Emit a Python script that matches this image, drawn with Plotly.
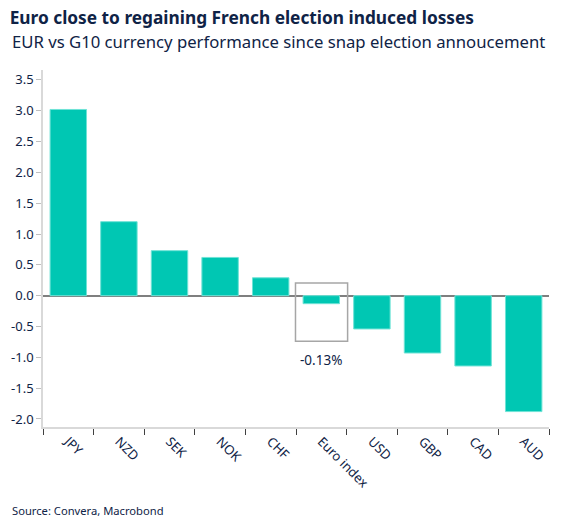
import plotly.graph_objects as go

categories = ["JPY", "NZD", "SEK", "NOK", "CHF", "Euro index", "USD", "GBP", "CAD", "AUD"]
values = [3.02, 1.20, 0.73, 0.62, 0.29, -0.13, -0.54, -0.93, -1.14, -1.88]
y_ticks = [3.5, 3.0, 2.5, 2.0, 1.5, 1.0, 0.5, 0.0, -0.5, -1.0, -1.5, -2.0]
highlight_label = "-0.13%"

navy = "#0f2346"
bar_color = "#00C7B3"
font_family = "Noto Sans"

fig = go.Figure()
fig.add_trace(go.Bar(
    x=categories, y=values,
    marker=dict(color=bar_color, line=dict(color="#6fe3d6", width=1)),
    width=0.72,
    hoverinfo="skip",
))

fig.add_shape(type="rect", xref="x", yref="y",
              x0=4.49, x1=5.52, y0=-0.74, y1=0.205,
              line=dict(color="#a6a6a6", width=1.5), fillcolor="rgba(0,0,0,0)")

fig.update_layout(
    width=558, height=521,
    paper_bgcolor="white", plot_bgcolor="white",
    margin=dict(l=35, r=17, t=62, b=102),
    showlegend=False,
    font=dict(family=font_family, color=navy),
    title=dict(text="<b>Euro close to regaining French election induced losses</b>",
               x=0.003, xanchor="left", y=0.9929, yanchor="top",
               font=dict(family=font_family, size=17.3, color=navy)),
    annotations=[
        dict(text="EUR vs G10 currency performance since snap election annoucement",
             x=-0.066, y=1.1176, xref="paper", yref="paper", xanchor="left", yanchor="top",
             showarrow=False, font=dict(family=font_family, size=16.7, color=navy)),
        dict(text="Source: Convera, Macrobond",
             x=-0.066, y=-0.2325, xref="paper", yref="paper", xanchor="left", yanchor="middle",
             showarrow=False, font=dict(family=font_family, size=11.2, color=navy)),
        dict(x=5, y=-1.04, xref="x", yref="y", text=highlight_label,
             showarrow=False, font=dict(family=font_family, size=13.5, color=navy)),
    ],
    xaxis=dict(
        type="category", tickangle=45, tickson="boundaries", automargin=False,
        ticks="outside", ticklen=6, tickcolor="#404040", tickwidth=1,
        showline=True, linecolor="#d9d9d9", linewidth=1.5,
        showgrid=False, zeroline=False,
        tickfont=dict(family=font_family, size=13, color=navy),
        range=[-0.5, 9.5],
    ),
    yaxis=dict(
        range=[-2.13, 3.66], tickvals=y_ticks, ticktext=[f"{v:.1f}" for v in y_ticks],
        automargin=False,
        ticks="outside", ticklen=5, tickcolor="#bfbfbf",
        showline=True, linecolor="#d9d9d9", linewidth=1.5,
        showgrid=False, zeroline=True, zerolinecolor="#7f7f7f", zerolinewidth=1.5,
        tickfont=dict(family=font_family, size=13, color=navy),
    ),
)

fig.write_html("out.html")
